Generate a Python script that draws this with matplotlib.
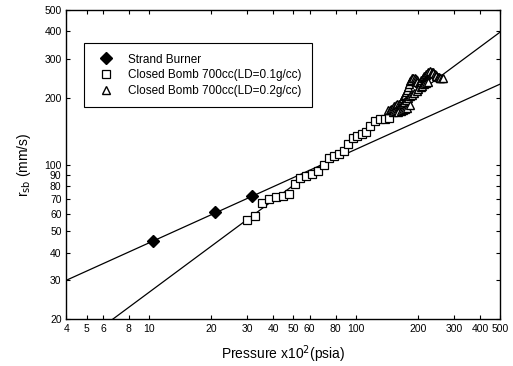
import numpy as np
import matplotlib.pyplot as plt

plt.rcParams['font.family'] = ['Liberation Sans', 'DejaVu Sans']

# strand burner data
strand_p = [10.5, 21, 31.5]
strand_r = [45, 61, 72]

# closed bomb LD=0.1 g/cc
cb1_p = [30, 32.5, 35.4, 38.2, 41.4, 44.6, 47.6, 50.7, 54, 57.8, 61.6, 65.6,
         70, 74, 78.4, 82.8, 87.6, 91.6, 96.8, 101.7, 107.6, 112.8, 118,
         124.7, 131, 138, 145]
cb1_r = [56, 58.5, 67, 70, 71.4, 72, 73.4, 81.5, 87, 89, 90.5, 93,
         100, 107, 109.6, 111.6, 114.6, 124, 132, 134.7, 137.6, 140, 150,
         158, 160, 161, 163]

# closed bomb LD=0.2 g/cc
cb2_p = [144, 146, 149, 151, 154, 156, 159, 162, 165, 167, 168.5, 170, 172,
         174, 176, 178, 180, 182, 184, 186, 188, 190, 193, 195, 197, 199,
         201.5, 204, 206, 208, 210.6, 213, 215, 218, 220, 223, 225, 228,
         230, 233, 235.5, 238, 241, 244, 246, 249, 252, 255, 257, 262, 266,
         151, 155, 158, 162, 165, 169, 172, 176, 180, 184, 188, 192, 197,
         201, 206, 210, 215, 220, 225, 160, 166, 170, 174, 178, 183]
cb2_r = [176, 177, 179, 181, 183, 185, 187, 187, 187, 191, 195, 199, 203,
         207, 212, 218, 225, 231, 238, 242, 245, 245, 245, 243, 241, 237,
         233, 234, 236, 240, 245, 248, 251, 254, 256, 258, 261, 263,
         264, 263, 261, 258, 256, 253, 251, 249, 248, 246, 245, 245, 245,
         172, 174, 176, 180, 183, 187, 191, 195, 199, 203, 207, 211, 216,
         219, 223, 226, 230, 233, 236, 172, 174, 176, 178, 180, 186]

# fitted lines (end points)
fit1_p = [4, 500]
fit1_r = [30, 231]
fit2_p = [6.7, 500]
fit2_r = [20, 397]

xticks = [4, 5, 6, 8, 10, 20, 30, 40, 50, 60, 80, 100, 200, 300, 400, 500]
yticks = [20, 30, 40, 50, 60, 70, 80, 90, 100, 200, 300, 400, 500]

fig = plt.figure(figsize=(5.13, 3.66), dpi=100)
ax = fig.add_axes([0.1296, 0.128, 0.8454, 0.845])

ax.plot(fit1_p, fit1_r, color='black', lw=0.9)
ax.plot(fit2_p, fit2_r, color='black', lw=0.9)

ax.plot(strand_p, strand_r, 'D', color='black', ms=6, label='Strand Burner')
ax.plot(cb1_p, cb1_r, 's', mfc='white', mec='black', mew=0.9, ms=6,
        label='Closed Bomb 700cc(LD=0.1g/cc)')
ax.plot(cb2_p, cb2_r, '^', mfc='white', mec='black', mew=1.0, ms=5.5,
        label='Closed Bomb 700cc(LD=0.2g/cc)')

ax.set_xscale('log')
ax.set_yscale('log')
ax.set_xlim(4, 500)
ax.set_ylim(20, 500)
ax.set_xticks(xticks)
ax.set_xticklabels([str(t) for t in xticks])
ax.set_yticks(yticks)
ax.set_yticklabels([str(t) for t in yticks])
ax.minorticks_off()
ax.tick_params(direction='in', top=True, right=True, labelsize=7.5, length=3)
for s in ax.spines.values():
    s.set_linewidth(1.0)

ax.set_xlabel('Pressure x10$^2$(psia)', fontsize=10, labelpad=7)
ax.set_ylabel('r$_{\\rm sb}$ (mm/s)', fontsize=10, labelpad=8)

leg = ax.legend(loc='upper left', bbox_to_anchor=(0.04, 0.893), borderaxespad=0,
                fancybox=False, edgecolor='black', fontsize=8.5, framealpha=1,
                handletextpad=0.8, borderpad=0.9, labelspacing=0.3)
leg.get_frame().set_linewidth(0.8)

plt.savefig('out.png')
